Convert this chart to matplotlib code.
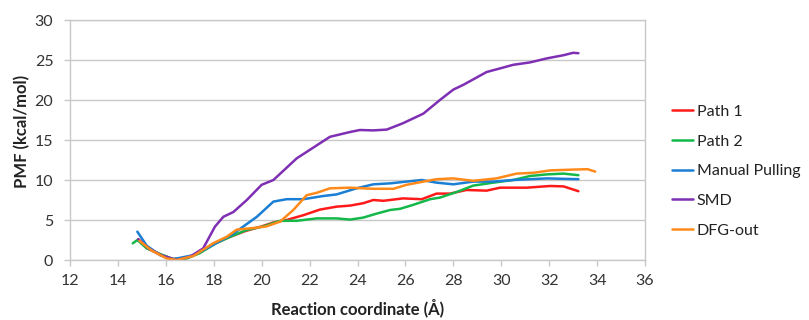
import matplotlib
matplotlib.use("Agg")
import matplotlib.pyplot as plt

plt.rcParams['font.family'] = ['Lato', 'DejaVu Sans']

path1_x = [14.85, 15.2, 15.76, 16.3, 16.87, 17.4, 18.0, 18.6, 19.3, 20.0, 20.5, 21.04, 21.74, 22.43, 23.13, 23.69, 24.24, 24.66, 25.08, 25.9, 26.68, 27.3, 27.86, 28.55, 29.39, 29.95, 31.06, 32.04, 32.6, 33.22]
path1_y = [2.6, 1.5, 0.7, 0.1, 0.25, 0.9, 2.0, 2.8, 3.6, 4.2, 4.7, 5.0, 5.6, 6.3, 6.67, 6.8, 7.1, 7.5, 7.4, 7.7, 7.6, 8.3, 8.3, 8.75, 8.67, 9.04, 9.04, 9.25, 9.2, 8.6]

path2_x = [14.62, 14.81, 15.2, 15.76, 16.3, 16.87, 17.4, 18.1, 18.68, 19.37, 20.07, 20.77, 21.46, 22.3, 23.13, 23.69, 24.24, 24.8, 25.36, 25.78, 26.33, 27.03, 27.44, 28.14, 28.83, 29.67, 30.5, 31.2, 31.9, 32.6, 33.22]
path2_y = [2.08, 2.5, 1.46, 0.75, 0.12, 0.2, 0.83, 2.1, 2.9, 3.75, 4.2, 4.9, 4.9, 5.2, 5.2, 5.05, 5.3, 5.8, 6.25, 6.4, 6.9, 7.6, 7.8, 8.5, 9.3, 9.67, 10.0, 10.5, 10.7, 10.8, 10.6]

manual_x = [14.81, 15.2, 15.76, 16.3, 17.15, 17.98, 18.82, 19.8, 20.49, 21.04, 21.74, 22.57, 23.13, 23.96, 24.66, 25.36, 26.05, 26.68, 27.3, 28.0, 28.83, 29.67, 30.5, 31.9, 33.22]
manual_y = [3.54, 1.8, 0.6, 0.1, 0.6, 1.9, 3.3, 5.4, 7.3, 7.6, 7.6, 8.0, 8.2, 8.96, 9.46, 9.58, 9.8, 10.0, 9.67, 9.46, 9.8, 9.8, 10.0, 10.2, 10.1]

smd_x = [14.85, 15.3, 15.8, 16.45, 17.0, 17.56, 18.05, 18.4, 18.82, 19.38, 20.0, 20.49, 21.46, 22.0, 22.85, 23.69, 24.1, 24.66, 25.22, 25.9, 26.75, 27.44, 28.0, 28.42, 29.39, 29.95, 30.5, 31.2, 31.9, 32.6, 33.0, 33.22]
smd_y = [2.6, 1.4, 0.6, 0.0, 0.4, 1.46, 4.17, 5.4, 6.0, 7.5, 9.4, 10.0, 12.7, 13.75, 15.4, 16.0, 16.25, 16.2, 16.3, 17.1, 18.3, 20.0, 21.3, 21.9, 23.5, 23.95, 24.4, 24.7, 25.2, 25.6, 25.9, 25.85]

dfg_x = [14.9, 15.4, 16.03, 16.45, 17.15, 17.98, 18.54, 18.96, 19.65, 20.2, 20.77, 21.32, 21.88, 22.3, 22.85, 23.69, 24.66, 25.5, 26.05, 26.75, 27.3, 28.0, 28.83, 29.8, 30.64, 31.34, 32.04, 33.0, 33.6, 33.92]
dfg_y = [2.4, 1.2, 0.2, 0.0, 0.5, 2.1, 2.9, 3.8, 4.0, 4.2, 4.8, 6.25, 8.1, 8.4, 8.96, 9.04, 8.9, 8.9, 9.4, 9.8, 10.1, 10.2, 9.9, 10.2, 10.8, 10.9, 11.2, 11.3, 11.35, 11.05]

series = [
    ("Path 1", path1_x, path1_y, "#ff1a1a"),
    ("Path 2", path2_x, path2_y, "#14b84a"),
    ("Manual Pulling", manual_x, manual_y, "#1a7fd4"),
    ("SMD", smd_x, smd_y, "#7f2fb3"),
    ("DFG-out", dfg_x, dfg_y, "#ff8a1a"),
]

x_ticks = list(range(12, 37, 2))
y_ticks = list(range(0, 31, 5))

fig = plt.figure(figsize=(8.09, 3.2), dpi=100)
ax = fig.add_axes([70/809, 1 - 260/320, 575/809, 240/320])

for name, xs, ys, c in series:
    ax.plot(xs, ys, color=c, lw=1.8, label=name, solid_capstyle='round')

ax.set_xlim(12, 36)
ax.set_ylim(0, 30)
ax.set_xticks(x_ticks)
ax.set_yticks(y_ticks)
ax.grid(axis='y', color='#c8c8c8', lw=1.0)
ax.set_axisbelow(True)
for s in ax.spines.values():
    s.set_color('#c8c8c8')
    s.set_linewidth(1.0)
ax.tick_params(axis='both', colors='#c8c8c8', labelcolor='#333333', labelsize=11.5, length=4, width=1.0)
ax.tick_params(axis='x', pad=6)
ax.tick_params(axis='y', pad=8)
ax.set_xlabel("Reaction coordinate (Å)", fontsize=12, fontweight='bold', color='#222222')
ax.xaxis.set_label_coords(0.5, -(308 - 260) / 240, transform=ax.transAxes)
ax.xaxis.label.set_va('center')
ax.set_ylabel("PMF (kcal/mol)", fontsize=12, fontweight='bold', color='#222222')
ax.yaxis.set_label_coords(-(70 - 22) / 575, (260 - 131) / 240, transform=ax.transAxes)
ax.yaxis.label.set_va('center')

leg = ax.legend(loc='upper left', bbox_to_anchor=(667/809, 1 - 100/320), bbox_transform=fig.transFigure,
                frameon=False, fontsize=11.5, handlelength=1.3, handletextpad=0.25, labelspacing=0.97,
                borderaxespad=0, borderpad=0.3)
for t in leg.get_texts():
    t.set_color('#222222')

fig.savefig("out.png", dpi=100)
